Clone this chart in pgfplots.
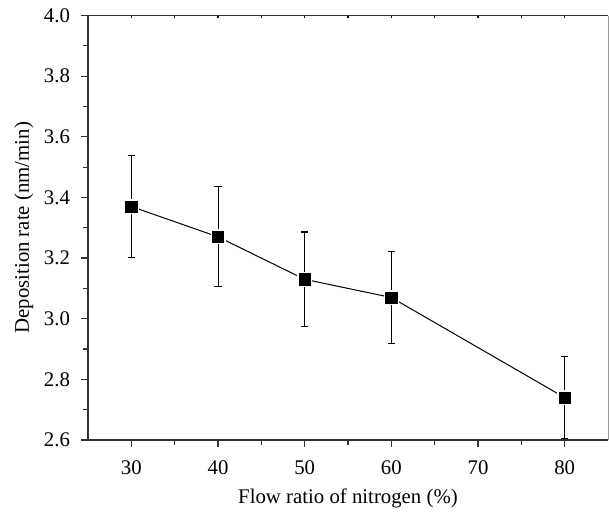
\documentclass[border=0pt]{standalone}
\usepackage{pgfplots}
\pgfplotsset{compat=1.18}
\usepackage{fontspec}
\setmainfont{Liberation Serif}

\definecolor{axdark}{HTML}{333333}

\begin{document}
\begin{tikzpicture}
 \begin{axis}[name=ax,
  scale only axis, width=260pt, height=212.25pt,
  xmin=25, xmax=85, ymin=2.6, ymax=4.0,
  axis lines=left, axis line style={-, axdark, line width=0.9pt},
  xtick={30,40,50,60,70,80}, minor x tick num=1,
  ytick={2.6,2.8,...,4.01}, minor y tick num=1,
  tick align=outside, major tick length=3.5pt, minor tick length=2.3pt,
  every tick/.style={axdark, line width=0.6pt},
  yticklabel style={/pgf/number format/.cd, fixed, fixed zerofill, precision=1, /tikz/.cd, xshift=-2pt},
  xticklabel style={yshift=-3.5pt},
  /pgf/number format/assume math mode=true,
  font=\fontsize{10.4}{12}\selectfont,
  xlabel={Flow ratio of nitrogen (\%)},
  ylabel={Deposition rate (nm/min)},
  xlabel style={at={(axis description cs:0.5,-0.1484)}, anchor=base},
  ylabel style={at={(axis description cs:-0.1135,0.5)}, anchor=base},
  clip=false]
  % connecting line
  \addplot[black, line width=0.5pt, no marks] coordinates {
   (30,3.37) (40,3.27) (50,3.13) (60,3.07) (80,2.74)};
  % marks with white halo
  \addplot[only marks, mark=square*, mark size=3.5pt,
   mark options={fill=white, draw=white}] coordinates {
   (30,3.37) (40,3.27) (50,3.13) (60,3.07) (80,2.74)};
  % error bars
  \addplot[draw=none, no marks, black, line width=0.55pt,
   error bars/.cd, y dir=both, y explicit,
   error mark options={rotate=90, mark size=1.8pt, line width=0.55pt}] coordinates {
   (30,3.37) +- (0,0.168)
   (40,3.27) +- (0,0.165)
   (50,3.13) +- (0,0.156)
   (60,3.07) +- (0,0.153)
   (80,2.74) +- (0,0.135)};
  \addplot[only marks, mark=square*, mark size=2.8pt, mark options={fill=black, draw=black}] coordinates {
   (30,3.37) (40,3.27) (50,3.13) (60,3.07) (80,2.74)};
  \draw[black!80, line width=0.7pt] (rel axis cs:0,1) -- (rel axis cs:1,1);
  \draw[black!40, line width=0.5pt] (rel axis cs:1,0) -- (rel axis cs:1,1);
 \end{axis}
 \begin{axis}[at={(ax.south west)}, anchor=south west,
  scale only axis, width=260pt, height=212.25pt,
  xmin=25, xmax=85, ymin=2.6, ymax=4.0,
  axis x line*=top, axis line style={draw=none}, hide y axis,
  xtick={30,40,50,60,70,80}, minor x tick num=1, xticklabels={},
  tick align=inside, major tick length=1.2pt, minor tick length=1.2pt,
  every tick/.style={black, line width=0.6pt}]
  \addplot[draw=none] coordinates {(30,3)};
 \end{axis}
 \path ([shift={(-44pt,-37pt)}]ax.south west) rectangle ([shift={(0.5pt,7.75pt)}]ax.north east);
\end{tikzpicture}
\end{document}
